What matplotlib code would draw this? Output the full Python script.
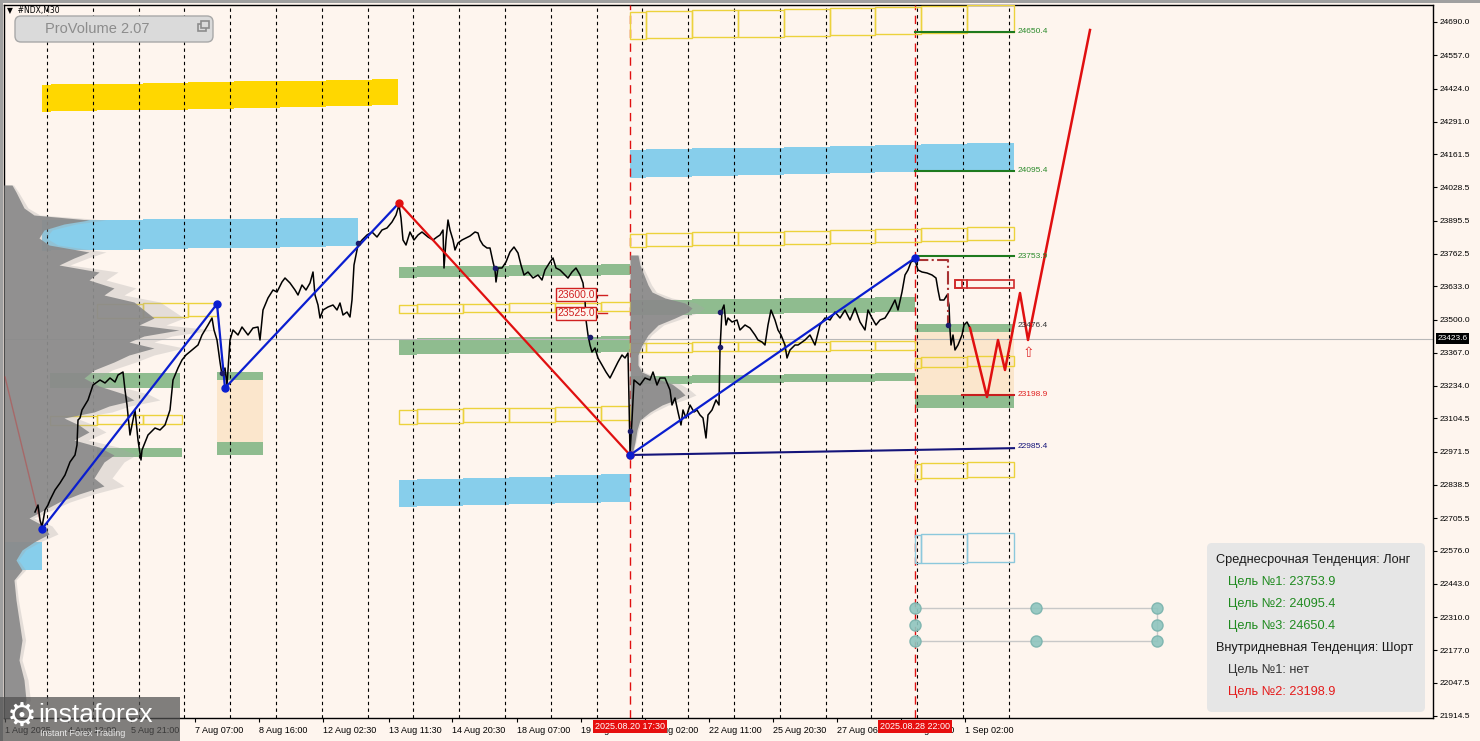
import matplotlib
matplotlib.use("Agg")
import matplotlib.pyplot as plt
from matplotlib.patches import Rectangle, FancyBboxPatch
from matplotlib.transforms import IdentityTransform
import numpy as np

W, H = 1480, 741
BG = "#FEF5EE"

# price axis
y_ticks = [24690.0, 24557.0, 24424.0, 24291.0, 24161.5, 24028.5, 23895.5, 23762.5,
           23633.0, 23500.0, 23367.0, 23234.0, 23104.5, 22971.5, 22838.5, 22705.5,
           22576.0, 22443.0, 22310.0, 22177.0, 22047.5, 21914.5]
price_lo, price_hi = 21906, 24758
last_price = 23423.6

# time axis, bar index (M30)
x_ticks = [5, 68, 131, 195, 259, 323, 389, 452, 517, 581, 645, 709, 773, 837, 901, 965]
x_labels = ["1 Aug 2025", "4 Aug 12:00", "5 Aug 21:00", "7 Aug 07:00", "8 Aug 16:00",
            "12 Aug 02:30", "13 Aug 11:30", "14 Aug 20:30", "18 Aug 07:00", "19 Aug 16:30",
            "21 Aug 02:00", "22 Aug 11:00", "25 Aug 20:30", "27 Aug 06:00", "28 Aug 15:30",
            "1 Sep 02:00"]
day_first, day_len, n_days = 47, 45.8, 22
marked_bars = [630, 915]
marked_labels = ["2025.08.20 17:30", "2025.08.28 22:00"]

# close prices
bar_x = [35, 38, 40, 42, 45, 48, 50, 55, 60, 65, 70, 75, 77, 78, 80, 82, 88, 93, 100, 105,
         110, 115, 118, 123, 125, 127, 130, 135, 138, 141, 142, 148, 155, 160, 165, 170, 173,
         178, 182, 186, 192, 198, 202, 208, 212, 214, 217, 220, 222, 225, 227, 230, 233, 238,
         242, 248, 253, 258, 260, 263, 268, 273, 277, 282, 285, 290, 295, 298, 302, 306, 310,
         313, 315, 318, 320, 323, 328, 333, 337, 340, 343, 347, 350, 352, 354, 356, 358, 362,
         367, 372, 377, 382, 387, 392, 396, 399, 401, 403, 406, 410, 414, 418, 422, 428, 433,
         437, 440, 443, 444, 446, 448, 450, 453, 455, 458, 462, 466, 470, 475, 478, 480, 483,
         487, 490, 493, 495, 496, 498, 502, 506, 510, 514, 518, 521, 524, 528, 533, 538, 542,
         545, 550, 553, 556, 560, 565, 568, 572, 576, 580, 583, 585, 586, 588, 590, 592, 595,
         598, 602, 606, 610, 614, 618, 622, 625, 628, 629, 630, 632, 634, 640, 645, 650, 653,
         657, 660, 665, 670, 672, 675, 678, 681, 683, 686, 690, 694, 697, 700, 703, 706, 708,
         712, 716, 719, 720, 722, 724, 726, 728, 732, 737, 740, 745, 750, 755, 758, 762, 765,
         768, 771, 775, 778, 781, 785, 787, 790, 795, 798, 805, 810, 815, 820, 825, 830, 835,
         840, 845, 850, 855, 860, 865, 868, 872, 876, 880, 885, 890, 895, 898, 902, 905, 908,
         911, 915, 918, 922, 927, 932, 936, 938, 940, 944, 947, 949, 950, 951, 953, 955, 958,
         960, 962, 964, 967, 970]
close = [22730, 22758, 22698, 22670, 22738, 22758, 22778, 22818, 22846, 22878, 22930, 22958,
         22998, 23098, 23106, 23138, 23178, 23238, 23258, 23246, 23266, 23250, 23278, 23290,
         23218, 23158, 23038, 23138, 23018, 22938, 22978, 23038, 23066, 23058, 23078, 23138,
         23258, 23306, 23338, 23358, 23378, 23398, 23438, 23478, 23506, 23458, 23418, 23330,
         23278, 23306, 23238, 23418, 23458, 23438, 23470, 23438, 23466, 23470, 23418, 23538,
         23586, 23618, 23610, 23650, 23666, 23646, 23618, 23598, 23638, 23618, 23646, 23690,
         23598, 23558, 23506, 23538, 23550, 23558, 23538, 23566, 23518, 23530, 23510, 23578,
         23718, 23758, 23798, 23818, 23838, 23850, 23830, 23858, 23866, 23890, 23918, 23958,
         23906, 23818, 23798, 23850, 23818, 23838, 23850, 23830, 23818, 23830, 23838, 23858,
         23706, 23818, 23898, 23858, 23818, 23778, 23806, 23818, 23826, 23834, 23850, 23846,
         23818, 23798, 23786, 23786, 23730, 23698, 23650, 23706, 23706, 23730, 23770, 23790,
         23766, 23718, 23678, 23690, 23666, 23678, 23658, 23698, 23730, 23746, 23706, 23698,
         23678, 23666, 23690, 23706, 23678, 23646, 23578, 23498, 23438, 23398, 23370, 23386,
         23346, 23318, 23290, 23266, 23298, 23330, 23358, 23346, 23366, 23178, 22966, 23098,
         23258, 23238, 23266, 23258, 23290, 23238, 23266, 23266, 23218, 23158, 23186, 23130,
         23078, 23138, 23106, 23158, 23130, 23138, 23118, 23106, 23026, 23118, 23138, 23178,
         23158, 23378, 23538, 23558, 23478, 23506, 23490, 23498, 23458, 23478, 23466, 23438,
         23418, 23410, 23398, 23478, 23538, 23498, 23458, 23438, 23398, 23346, 23378, 23398,
         23398, 23418, 23438, 23398, 23478, 23506, 23498, 23530, 23506, 23538, 23498, 23546,
         23490, 23458, 23538, 23506, 23478, 23498, 23506, 23538, 23578, 23538, 23610, 23678,
         23698, 23730, 23738, 23698, 23690, 23686, 23678, 23666, 23618, 23578, 23578, 23598,
         23558, 23458, 23398, 23438, 23378, 23398, 23418, 23438, 23478, 23490, 23466]

# zigzags
zz_blue_a_x = [42, 217, 225, 399]
zz_blue_a_y = [22662, 23562, 23226, 23966]
zz_red_x = [399, 630]
zz_red_y = [23966, 22958]
zz_blue_b_x = [630, 915]
zz_blue_b_y = [22958, 23746]
forecast_x = [970, 987, 998, 1005, 1020, 1028, 1090]
forecast_y = [23466, 23190, 23418, 23298, 23606, 23418, 24658]

# volume profiles (price level, width in bars)
left_prof_price = [24038, 24010, 23978, 23946, 23918, 23898, 23882, 23858, 23826, 23798,
                   23770, 23746, 23718, 23690, 23658, 23626, 23598, 23570, 23538, 23506,
                   23478, 23458, 23434, 23410, 23386, 23358, 23330, 23298, 23266, 23234,
                   23202, 23178, 23154, 23130, 23106, 23078, 23050, 23018, 22990, 22958,
                   22930, 22898, 22866, 22834, 22802, 22770, 22738, 22706, 22674, 22642,
                   22610, 22578, 22538, 22498, 22458, 22378, 22298, 22218, 22138, 22058,
                   21978, 21906]
left_prof_width = [8, 12, 16, 20, 30, 85, 60, 40, 35, 45, 85, 70, 55, 95, 85, 110, 100, 130,
                   140, 150, 135, 175, 140, 125, 150, 125, 110, 90, 80, 95, 120, 130, 105, 90,
                   60, 75, 85, 70, 95, 110, 100, 95, 90, 100, 75, 55, 40, 25, 40, 45, 30, 18,
                   12, 18, 10, 12, 15, 18, 15, 20, 22, 15]
mid_prof_price = [23758, 23718, 23678, 23638, 23610, 23586, 23566, 23546, 23530, 23506,
                  23478, 23438, 23398, 23358, 23318, 23290, 23266, 23242, 23218, 23198,
                  23178, 23158, 23130, 23098, 23058, 23010, 22958]
mid_prof_width = [8, 10, 14, 18, 22, 35, 55, 62, 58, 45, 28, 18, 12, 8, 8, 12, 25, 42, 50,
                  55, 45, 32, 20, 10, 7, 5, 2]

# zones: x0, x1, top left, top right, bottom left, bottom right
gold_zones = [(42, 398, 24438, 24462, 24330, 24358)]
blue_zones = [(42, 358, 23898, 23906, 23774, 23794),
              (4, 42, 22610, 22610, 22498, 22498),
              (630, 1014, 24178, 24206, 24066, 24098),
              (399, 630, 22858, 22882, 22750, 22770)]
green_zones = [(399, 630, 23710, 23722, 23666, 23678),
               (399, 630, 23422, 23434, 23358, 23370),
               (630, 915, 23578, 23590, 23518, 23530),
               (630, 915, 23274, 23286, 23242, 23254),
               (915, 1014, 23482, 23482, 23450, 23450),
               (915, 1014, 23198, 23198, 23146, 23146),
               (50, 180, 23286, 23286, 23226, 23226),
               (97, 182, 22986, 22986, 22950, 22950),
               (217, 263, 23290, 23290, 23258, 23258),
               (217, 263, 23010, 23010, 22958, 22958)]
peach_zones = [(217, 263, 23278, 23278, 22990, 22990),
               (915, 1014, 23482, 23482, 23150, 23150)]
yellow_boxes = [(630, 1014, 24730, 24758, 24622, 24650),
                (630, 1014, 23842, 23870, 23790, 23818),
                (630, 915, 23406, 23414, 23370, 23378),
                (915, 1014, 23346, 23354, 23306, 23314),
                (915, 1014, 22922, 22930, 22862, 22870),
                (399, 630, 23558, 23570, 23526, 23534),
                (399, 630, 23138, 23154, 23082, 23098),
                (97, 217, 23562, 23566, 23506, 23514),
                (50, 182, 23114, 23118, 23078, 23082)]
cyan_boxes = [(915, 1014, 22638, 22646, 22526, 22530)]
red_boxes = [(955, 1014, 23658, 23658, 23626, 23626)]

# target levels at the right
target_levels = [24650.4, 24095.4, 23753.9]
support_level = 23198.9
pivot_level = 23476.4
trend_start = (630, 22958)
trend_level = 22985.4
order_levels = [23600.0, 23525.0]
dot_levels = [22346, 22278, 22214]

info_lines = ["Среднесрочная Тенденция: Лонг", "Цель №1: 23753.9", "Цель №2: 24095.4",
              "Цель №3: 24650.4", "Внутридневная Тенденция: Шорт", "Цель №1: нет",
              "Цель №2: 23198.9"]
info_colors = ["#1a1a1a", "#1f8a1f", "#1f8a1f", "#1f8a1f", "#1a1a1a", "#333333", "#e41b1b"]
info_indent = [0, 1, 1, 1, 0, 1, 1]

plt.rcParams["font.family"] = ["Liberation Sans", "DejaVu Sans"]

fig = plt.figure(figsize=(W / 100, H / 100), dpi=100, facecolor=BG)
ax_l, ax_r, ax_t, ax_b = 4, 1433, 5, 718
ax = fig.add_axes([ax_l / W, 1 - ax_b / H, (ax_r - ax_l) / W, (ax_b - ax_t) / H])
ax.set_facecolor(BG)
ax.set_xlim(ax_l, ax_r)
ax.set_ylim(price_lo, price_hi)

seps = day_first + day_len * np.arange(n_days)


def day_cuts(x0, x1):
    cuts = [s + 4 for s in seps if x0 + 3 < s + 4 < x1 - 3]
    return [x0] + cuts + [x1]


def draw_zone(z, color, zorder, filled=True, lw=1.0):
    x0, x1, t0, t1, b0, b1 = z
    xs = day_cuts(x0, x1)
    for a, b in zip(xs[:-1], xs[1:]):
        m = (a + b) / 2
        t = np.interp(m, [x0, x1], [t0, t1])
        bo = np.interp(m, [x0, x1], [b0, b1])
        if filled:
            ax.add_patch(Rectangle((a, bo), b - a, t - bo, facecolor=color,
                                   edgecolor="none", zorder=zorder))
        else:
            ax.add_patch(Rectangle((a, bo), b - a, t - bo, facecolor="none",
                                   edgecolor=color, lw=lw, zorder=zorder))


for z in peach_zones:
    draw_zone(z, "#fbe6cc", 1)
for z in gold_zones:
    draw_zone(z, "#ffd700", 1.5)
for z in blue_zones:
    draw_zone(z, "#87ceeb", 1.5)
for z in green_zones:
    draw_zone(z, "#8fbc8f", 1.6)
for z in yellow_boxes:
    draw_zone(z, "#ecd23c", 3, filled=False)
for z in cyan_boxes:
    draw_zone(z, "#8cc8dc", 3, filled=False)
for z in red_boxes:
    draw_zone(z, "#d02a2a", 3, filled=False, lw=1.2)
ax.add_patch(Rectangle((955, 23626), 7, 32, facecolor="none", edgecolor="#d02a2a",
                       lw=1.2, zorder=3))

# separators
for s in seps:
    ax.axvline(s, color="black", lw=0.8, ls=(0, (3, 3)), zorder=2.5)
for mb in marked_bars:
    ax.axvline(mb, color="#e01010", lw=1.0, ls=(0, (6, 4)), zorder=2.6)
ax.axhline(last_price, color="#b8b8b8", lw=0.8, zorder=2.4)

# volume profiles
lp = np.array(left_prof_width)
ax.fill_betweenx(left_prof_price, ax_l, ax_l + lp * 1.2, color="#a8a8a8", alpha=0.3,
                 lw=0, zorder=4)
ax.fill_betweenx(left_prof_price, ax_l, ax_l + lp, color="#8a8a8a", alpha=0.92, lw=0,
                 zorder=4.1)
mp = np.array(mid_prof_width)
ax.fill_betweenx(mid_prof_price, 630, 630 + mp * 1.2, color="#a8a8a8", alpha=0.3,
                 lw=0, zorder=4)
ax.fill_betweenx(mid_prof_price, 630, 630 + mp, color="#8a8a8a", alpha=0.92, lw=0,
                 zorder=4.1)

# faint earlier swing
ax.plot([5, 42], [23270, 22662], color="#d02020", lw=1, alpha=0.35, zorder=4.5)

# price
ax.plot(bar_x, close, color="black", lw=1.1, zorder=5)

# zigzags
ax.plot(zz_blue_a_x, zz_blue_a_y, color="#0a1ed0", lw=1.6, zorder=6)
ax.plot(zz_red_x, zz_red_y, color="#e01010", lw=1.6, zorder=6)
ax.plot(zz_blue_b_x, zz_blue_b_y, color="#0a1ed0", lw=1.6, zorder=6)
ax.plot([trend_start[0], 1014], [trend_start[1], trend_level], color="#14147a", lw=1.5, zorder=6)
ax.plot(forecast_x, forecast_y, color="#e01010", lw=1.8, zorder=6)
ax.plot([915, 948, 948], [23738, 23738, 23478], color="#a83232", lw=1.5, ls="-.", zorder=5.5)
ax.plot(zz_blue_a_x[:3] + zz_blue_b_x[1:], zz_blue_a_y[:3] + zz_blue_b_y[1:], "o",
        color="#0a1ed0", ms=5, zorder=7)
ax.plot([399, 630], [23966, 22958], "o", color="#e01010", ms=5, zorder=7)
ax.plot([630], [22958], "o", color="#0a1ed0", ms=5, zorder=7.1)
ax.plot([222, 358, 495, 590, 630, 720, 720, 948], [23286, 23806, 23706, 23430, 23054, 23530,
        23390, 23478], "o", color="#1a1a6a", ms=3, zorder=7)

# level lines and labels
for lv in target_levels:
    ax.plot([915, 1014], [lv, lv], color="#1e7a1e", lw=1.5, zorder=6)
    ax.text(1018, lv, f"{lv:.1f}", color="#2a8a2a", fontsize=6, va="center", zorder=8)
ax.plot([962, 1014], [support_level, support_level], color="#c81e1e", lw=1.5, zorder=6)
ax.text(1018, support_level, f"{support_level:.1f}", color="#e02020", fontsize=6,
        va="center", zorder=8)
ax.text(1018, pivot_level, f"{pivot_level:.1f}", color="#333333", fontsize=6,
        va="center", zorder=8)
ax.text(1018, trend_level + 8, f"{trend_level:.1f}", color="#14147a", fontsize=6,
        va="center", zorder=8)
for lv in order_levels:
    ax.plot([598, 607], [lv, lv], color="#d02020", lw=1, zorder=7)
    ax.text(576, lv, f"{lv:.1f}", color="#d02020", fontsize=7.5, ha="center", va="center",
            zorder=8, bbox=dict(boxstyle="square,pad=0.15", fc=BG, ec="#d02020", lw=1))
ax.text(1028, 23366, "⇧", color="#e03030", fontsize=10, ha="center", va="center",
        family="DejaVu Sans", zorder=8)

# grouped dots
for lv in (dot_levels[0], dot_levels[2]):
    ax.plot([915, 1157], [lv, lv], color="#c8c8c8", lw=1, zorder=6)
ax.plot([1157, 1157], [dot_levels[0], dot_levels[2]], color="#c8c8c8", lw=1, zorder=6)
for xx in (915, 1157):
    ax.plot([xx] * 3, dot_levels, "o", color="#8ec5bf", mec="#7ab3ad", ms=8, alpha=0.9, zorder=7)
ax.plot([1036, 1036], [dot_levels[0], dot_levels[2]], "o", color="#8ec5bf", mec="#7ab3ad",
        ms=8, alpha=0.9, zorder=7)

# axes
ax.yaxis.tick_right()
ax.set_yticks(y_ticks)
ax.set_yticklabels([f"{v:.1f}" for v in y_ticks])
ax.tick_params(axis="y", length=3, width=0.8, pad=2, labelsize=6)
ax.set_xticks(x_ticks)
ax.set_xticklabels(x_labels)
ax.tick_params(axis="x", length=3, width=0.8, pad=3, labelsize=6.5)
for lbl in ax.get_xticklabels():
    lbl.set_horizontalalignment("left")
for sp in ax.spines.values():
    sp.set_linewidth(1)
ax.text(1.003, last_price, f"{last_price:.1f}", transform=ax.get_yaxis_transform(),
        color="white", fontsize=6, va="center", ha="left", zorder=10, clip_on=False,
        bbox=dict(boxstyle="square,pad=0.2", fc="black", ec="none"))
for mb, lab in zip(marked_bars, marked_labels):
    ax.text(mb, -0.006, lab, transform=ax.get_xaxis_transform(), color="white", fontsize=6.5,
            ha="center", va="top", zorder=10, clip_on=False,
            bbox=dict(boxstyle="square,pad=0.2", fc="#e60e0e", ec="none"))

# figure overlays in pixel units
ident = IdentityTransform()
fig.add_artist(Rectangle((0, H - 3), W, 3, fc="#a0a0a0", ec="none", transform=ident))
fig.add_artist(Rectangle((0, 0), 3, H, fc="#a0a0a0", ec="none", transform=ident))

fig.add_artist(FancyBboxPatch((1207, H - 712), 218, 169, boxstyle="round,pad=0,rounding_size=5",
                              fc="#e6e6e6", ec="none", transform=ident, zorder=5))
for i, (line, col, ind) in enumerate(zip(info_lines, info_colors, info_indent)):
    fig.text(1216 + 12 * ind, H - (560 + 22 * i), line, color=col, fontsize=9.2,
             va="center", transform=ident, zorder=6)

fig.add_artist(FancyBboxPatch((15, H - 42), 198, 26, boxstyle="round,pad=0,rounding_size=6",
                              fc="#dadada", ec="#a8a8a8", lw=1, transform=ident, zorder=5))
fig.text(45, H - 29, "ProVolume 2.07", color="#8c8c8c", fontsize=10.5, va="center",
         transform=ident, zorder=6)
fig.add_artist(Rectangle((198, H - 31), 8, 7, fc="none", ec="#8c8c8c", lw=1.2,
                         transform=ident, zorder=6))
fig.add_artist(Rectangle((201, H - 28), 8, 7, fc="#dadada", ec="#8c8c8c", lw=1.2,
                         transform=ident, zorder=6))
fig.text(7, H - 11, "▼  #NDX,M30", color="black", fontsize=5.5, va="center",
         family="DejaVu Sans", transform=ident, zorder=6)

fig.add_artist(Rectangle((0, 0), 180, 44, fc="#505050", ec="none", alpha=0.72,
                         transform=ident, zorder=5))
fig.text(22, H - 716, "⚙", color="white", fontsize=24, ha="center", va="center",
         family="DejaVu Sans", transform=ident, zorder=6)
fig.text(38, H - 715, "instaforex", color="white", fontsize=19, va="center",
         transform=ident, zorder=6)
fig.text(40, H - 734, "Instant Forex Trading", color="#e8e8e8", fontsize=6.5, va="center",
         transform=ident, zorder=6)

fig.savefig("out.png", dpi=100, facecolor=BG)
